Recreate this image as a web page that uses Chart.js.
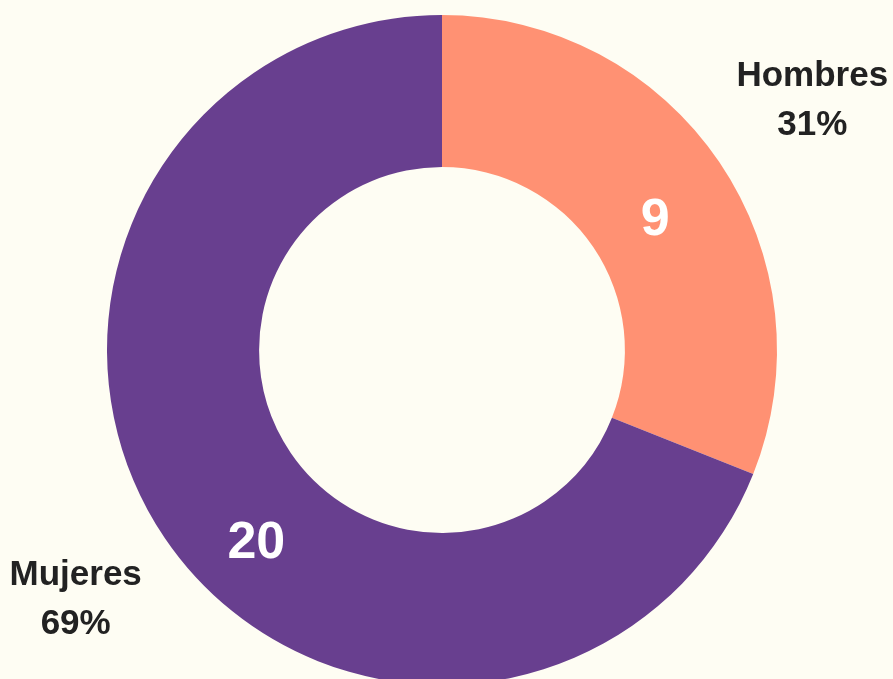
<!DOCTYPE html>
<html>
<head>
<meta charset="utf-8">
<script src="https://cdn.jsdelivr.net/npm/chart.js@4.4.0/dist/chart.umd.min.js"></script>
<style>
  html, body { margin: 0; padding: 0; background: #fefdf3; }
  #wrap { width: 893px; height: 679px; }
</style>
</head>
<body>
<div id="wrap"><canvas id="chart" width="893" height="679"></canvas></div>
<script>
const labels = ['Hombres', 'Mujeres'];
const counts = [9, 20];
const colours = ['#ff9173', '#683f8f'];

// where the count sits inside each slice (fraction of slice angle, fraction of ring width)
const insideSpots = [[0.52, 0.44], [0.454, 0.55]];

const sliceLabels = {
  id: 'sliceLabels',
  afterDatasetsDraw(chart) {
    const ctx = chart.ctx;
    const total = counts.reduce((a, b) => a + b, 0);
    const arcs = chart.getDatasetMeta(0).data;
    ctx.save();
    ctx.textAlign = 'center';
    ctx.textBaseline = 'middle';
    arcs.forEach((arc, i) => {
      const { x, y, startAngle, endAngle, innerRadius, outerRadius } = arc.getProps(
        ['x', 'y', 'startAngle', 'endAngle', 'innerRadius', 'outerRadius'], true);

      // count inside the ring
      const [fa, fr] = insideSpots[i];
      const a = startAngle + fa * (endAngle - startAngle);
      const r = innerRadius + fr * (outerRadius - innerRadius);
      ctx.fillStyle = '#ffffff';
      ctx.font = 'bold 52px "Liberation Sans", Arial, sans-serif';
      ctx.fillText(String(counts[i]), x + Math.cos(a) * r + 1, y + Math.sin(a) * r + 3);

      // name + share outside
      const mid = (startAngle + endAngle) / 2;
      const ro = outerRadius + 110;
      const lx = x + Math.cos(mid) * ro;
      const ly = y + Math.sin(mid) * ro;
      const pct = Math.round(counts[i] / total * 100) + '%';
      ctx.fillStyle = '#222222';
      ctx.font = 'bold 35px "Liberation Sans", Arial, sans-serif';
      ctx.fillText(labels[i], lx + 2, ly - 24);
      ctx.fillText(pct, lx + 2, ly + 25);
    });
    ctx.restore();
  }
};

new Chart(document.getElementById('chart'), {
  type: 'doughnut',
  data: {
    labels: labels,
    datasets: [{
      data: counts,
      backgroundColor: colours,
      borderWidth: 0,
      hoverOffset: 0
    }]
  },
  options: {
    responsive: false,
    animation: false,
    radius: 335,
    cutout: '54.6%',
    layout: { padding: { left: 0, right: 9, top: 21, bottom: 0 } },
    plugins: {
      legend: { display: false },
      tooltip: { enabled: false }
    }
  },
  plugins: [sliceLabels]
});
</script>
</body>
</html>
